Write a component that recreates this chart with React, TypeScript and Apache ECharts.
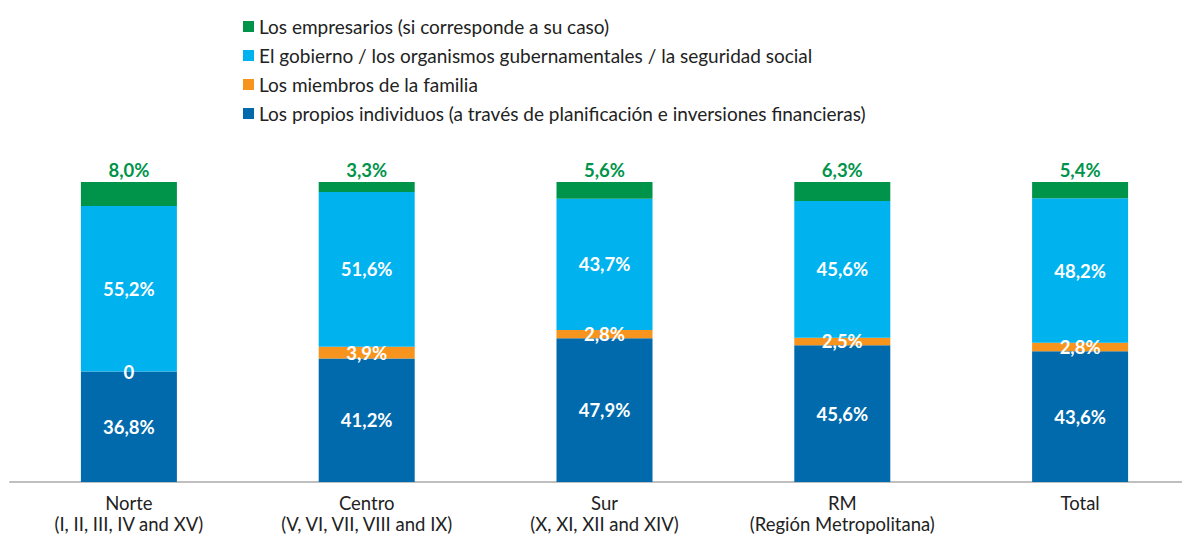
import React, { useEffect, useRef } from "react";
import * as echarts from "echarts";

const categories = [
  "Norte\n(I, II, III, IV and XV)",
  "Centro\n(V, VI, VII, VIII and IX)",
  "Sur\n(X, XI, XII and XIV)",
  "RM\n(Región Metropolitana)",
  "Total",
];
const seriesNames = [
  "Los propios individuos (a través de planificación e inversiones financieras)",
  "Los miembros de la familia",
  "El gobierno / los organismos gubernamentales / la seguridad social",
  "Los empresarios (si corresponde a su caso)",
];
const individuos = [36.8, 41.2, 47.9, 45.6, 43.6];
const familia = [0, 3.9, 2.8, 2.5, 2.8];
const gobierno = [55.2, 51.6, 43.7, 45.6, 48.2];
const empresarios = [8.0, 3.3, 5.6, 6.3, 5.4];

const colors = ["#006aad", "#f7941d", "#00b2ee", "#00944a"];
const FONT = "Lato";

const fmt = (v: number) => (v === 0 ? "0" : v.toFixed(1).replace(".", ",") + "%");

export default function App() {
  const ref = useRef<HTMLDivElement>(null);
  useEffect(() => {
    if (!ref.current) return;
    const chart = echarts.init(ref.current, null, { renderer: "svg" });
    const data = [individuos, familia, gobierno, empresarios];
    chart.setOption({
      animation: false,
      textStyle: { fontFamily: FONT },
      legend: {
        orient: "vertical",
        left: 238,
        top: 12,
        itemWidth: 11,
        itemHeight: 11,
        itemGap: 10,
        icon: "rect",
        data: [seriesNames[3], seriesNames[2], seriesNames[1], seriesNames[0]],
        textStyle: { fontFamily: FONT, fontSize: 19, color: "#222" },
      },
      grid: {
        left: 10,
        right: -17,
        top: 182,
        bottom: 55,
        containLabel: false,
        outerBoundsMode: "none",
      },
      xAxis: {
        type: "category",
        data: categories,
        axisTick: { show: false },
        axisLine: { lineStyle: { color: "#bfbfbf", width: 2 } },
        axisLabel: {
          fontFamily: FONT,
          fontSize: 18.5,
          color: "#222",
          lineHeight: 21,
          margin: 10,
          interval: 0,
        },
      },
      yAxis: { type: "value", min: 0, max: 100, show: false, splitLine: { show: false } },
      series: data.map((d, i) => ({
        name: seriesNames[i],
        type: "bar",
        stack: "all",
        barWidth: 96,
        data: d,
        itemStyle: { color: colors[i] },
        label: {
          show: true,
          position: i === 3 ? "top" : "inside",
          distance: i === 3 ? 3 : 5,
          formatter: (p: any) => fmt(p.value),
          color: i === 3 ? colors[3] : "#fff",
          fontFamily: FONT,
          fontWeight: "bold",
          fontSize: 18.5,
        },
      })),
    });
    return () => chart.dispose();
  }, []);
  return (
    <div
      ref={ref}
      style={{ position: "absolute", left: 0, top: 0, width: 1182, height: 537 }}
    />
  );
}
